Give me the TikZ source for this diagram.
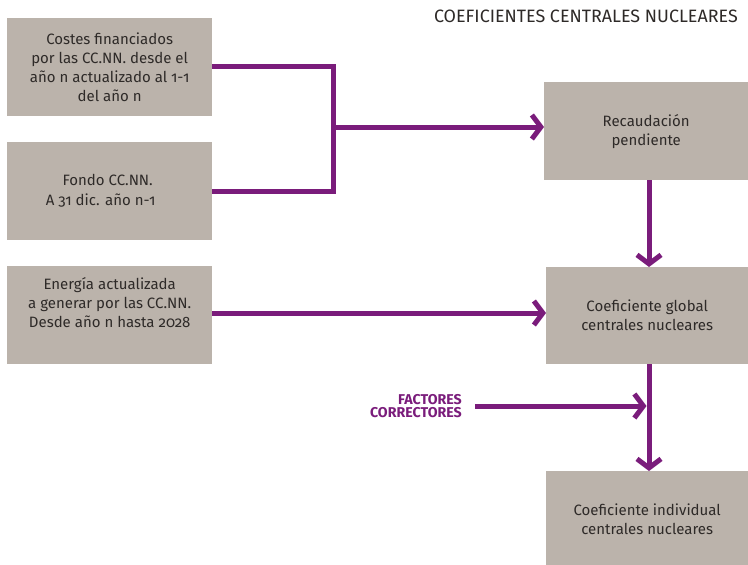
\documentclass[tikz,border=0pt]{standalone}
\usepackage{fontspec}
\setmainfont{Fira Sans}[Numbers=OldStyle]
\usetikzlibrary{arrows.meta}
\definecolor{boxgray}{HTML}{BBB3AB}
\definecolor{plum}{HTML}{7A1C7B}
\definecolor{ink}{HTML}{2E2A28}
\tikzset{
  box/.style={fill=boxgray, draw=none, anchor=north west, align=center,
    text=ink, font=\fontsize{15}{19}\selectfont, inner sep=0pt},
  link/.style={draw=plum, line width=5pt},
  arrowlink/.style={link, -{Straight Barb[length=9pt, width=24pt]}},
}
\begin{document}
\begin{tikzpicture}[x=1pt, y=-1pt]
\useasboundingbox (0,0) rectangle (748,565);

% title
\node[anchor=north east, text=ink, font=\fontsize{17.9}{20}\selectfont, inner sep=0pt]
  (title) at (738,10) {COEFICIENTES CENTRALES NUCLEARES};

% input boxes on the left
\node[box, minimum width=205pt, minimum height=98pt] (costes) at (7,18)
  {Costes financiados\\por las CC.NN. desde el\\año n actualizado al 1-1\\del año n};
\node[box, minimum width=205pt, minimum height=98pt] (fondo) at (7,142)
  {\hspace*{-4pt}Fondo CC.NN.\\[1pt]\hspace*{-18pt}A 31 dic. año n-1};
\node[box, minimum width=205pt, minimum height=98pt] (energia) at (7,266)
  {Energía actualizada\\a generar por las CC.NN.\\Desde año n hasta 2028\\[6pt]};

% result boxes on the right
\node[box, minimum width=204pt, minimum height=98pt] (recaud) at (544,82)
  {Recaudación\\pendiente};
\node[box, minimum width=202pt, minimum height=97pt] (global) at (546,267)
  {Coeficiente global\\centrales nucleares};
\node[box, minimum width=202pt, minimum height=94pt] (indiv) at (546,471)
  {\\[-6pt]Coeficiente individual\\centrales nucleares};

% corrector label
\node[anchor=east, align=right, text=plum, inner sep=0pt,
  font=\fontsize{14.2}{13.5}\selectfont\bfseries] (factores) at (462,406)
  {FACTORES\\CORRECTORES};

% connectors
\coordinate (join) at (333,127);
\coordinate (fstart) at (475,406);
\draw[link] (costes.east |- 0,66) -| (join) |- (fondo.east |- 0,191);
\draw[arrowlink] (join) -- (recaud.west |- join);
\draw[arrowlink] (energia.east |- 0,313) -- (global.west |- 0,313);
\draw[arrowlink] (649,180) -- (649,267);
\draw[arrowlink] (649,364) -- (649,471);
\draw[arrowlink, shorten >=2.5pt] (fstart) -- (649,406);
\end{tikzpicture}
\end{document}
